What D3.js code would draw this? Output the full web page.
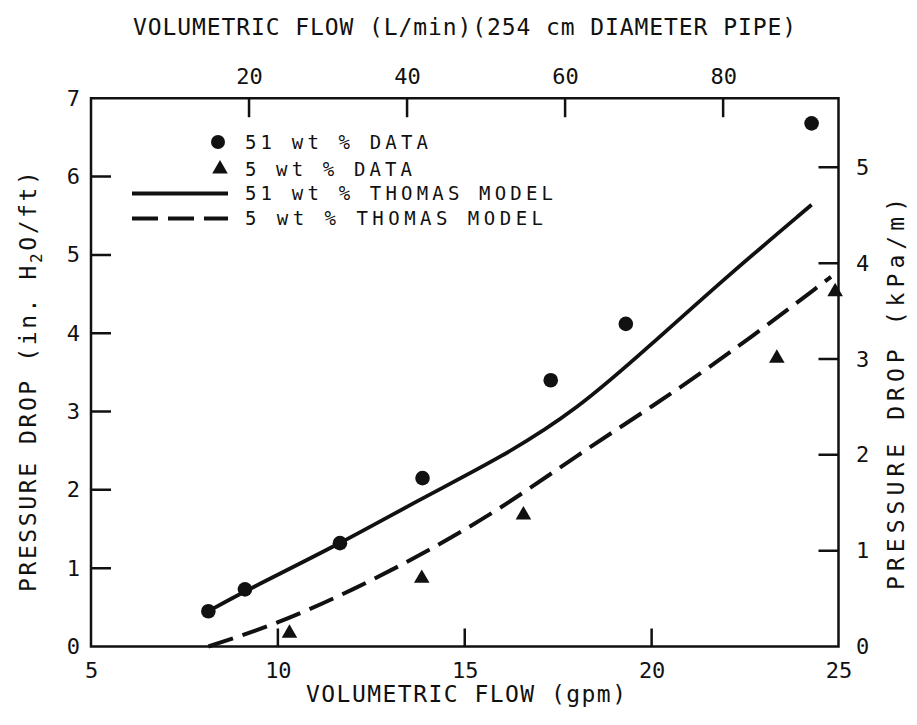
<!DOCTYPE html>
<html>
<head>
<meta charset="utf-8">
<script src="https://cdnjs.cloudflare.com/ajax/libs/d3/7.8.5/d3.min.js"></script>
<style>
  body { margin: 0; background: #fff; }
  svg text { font-family: "DejaVu Sans Mono", monospace; fill: #111; }
</style>
</head>
<body>
<svg width="917" height="725"></svg>
<script>
// measured data (gpm vs in. H2O/ft)
const flow51 = [8.14, 9.12, 11.66, 13.87, 17.30, 19.31, 24.28]
const drop51 = [0.45, 0.73, 1.32, 2.15, 3.40, 4.12, 6.68]
const flow5 = [10.31, 13.85, 16.57, 23.35, 24.91]
const drop5 = [0.17, 0.87, 1.68, 3.68, 4.53]
// Thomas model curves
const modelFlow51 = [8.14, 9.12, 11.66, 13.8, 16, 18, 20, 22, 24.28]
const modelDrop51 = [0.45, 0.71, 1.31, 1.88, 2.42, 3.02, 3.86, 4.72, 5.64]
const modelFlow5 = [8.14, 10, 12, 14, 16, 18, 20, 22, 24.8]
const modelDrop5 = [0, 0.29, 0.72, 1.21, 1.77, 2.44, 3.06, 3.71, 4.72]

const xTicks = [5, 10, 15, 20, 25]
const yTicks = [0, 1, 2, 3, 4, 5, 6, 7]
const topTicks = [20, 40, 60, 80]
const rightTicks = [0, 1, 2, 3, 4, 5]
const legendLabels = ['51 wt % DATA', '5 wt % DATA', '51 wt % THOMAS MODEL', '5 wt % THOMAS MODEL']
const legendWidths = [183, 167, 308, 298]

const plotLeft = 91, plotRight = 838.5, plotTop = 98.3, plotBottom = 646.5
const svg = d3.select('svg')

const x = d3.scaleLinear().domain([5, 25]).range([plotLeft, plotRight])
const y = d3.scaleLinear().domain([0, 7]).range([plotBottom, plotTop])
const xTop = d3.scaleLinear().domain([0, 94.6]).range([plotLeft, plotRight])
const yRight = d3.scaleLinear().domain([0, 7 * 0.8172]).range([plotBottom, plotTop])

const styleAxis = g => {
  g.select('.domain').remove()
  g.selectAll('.tick line').remove()
  g.selectAll('.tick text').attr('font-size', 22).attr('fill', '#111')
    .attr('font-family', '"Liberation Sans", Arial, sans-serif')
}
const fmt = d3.format('d')

svg.append('g').attr('transform', `translate(0,${plotBottom})`)
  .call(d3.axisBottom(x).tickValues(xTicks).tickFormat(fmt).tickSize(0).tickPadding(15.5))
  .call(styleAxis)
svg.append('g').attr('transform', `translate(${plotLeft},0)`)
  .call(d3.axisLeft(y).tickValues(yTicks).tickFormat(fmt).tickSize(0).tickPadding(11))
  .call(styleAxis)
svg.append('g').attr('transform', `translate(0,${plotTop})`)
  .call(d3.axisTop(xTop).tickValues(topTicks).tickFormat(fmt).tickSize(0).tickPadding(14))
  .call(styleAxis)
svg.append('g').attr('transform', `translate(${plotRight},0)`)
  .call(d3.axisRight(yRight).tickValues(rightTicks).tickFormat(fmt).tickSize(0).tickPadding(17.5))
  .call(styleAxis)

// frame plus inward tick marks, as one path
const frame = d3.path()
frame.rect(plotLeft, plotTop, plotRight - plotLeft, plotBottom - plotTop)
xTicks.slice(1, -1).forEach(v => { frame.moveTo(x(v), plotBottom); frame.lineTo(x(v), plotBottom - 18) })
yTicks.slice(1, -1).forEach(v => { frame.moveTo(plotLeft, y(v)); frame.lineTo(plotLeft + 20, y(v)) })
topTicks.forEach(v => { frame.moveTo(xTop(v), plotTop); frame.lineTo(xTop(v), plotTop + 19) })
rightTicks.slice(1).forEach(v => { frame.moveTo(plotRight, yRight(v)); frame.lineTo(plotRight - 20, yRight(v)) })
svg.append('path').attr('d', frame.toString())
  .attr('fill', 'none').attr('stroke', '#111').attr('stroke-width', 2.5)

// model curves
const line = d3.line().x(d => x(d[0])).y(d => y(d[1])).curve(d3.curveBasis)
svg.append('path').datum(d3.zip(modelFlow51, modelDrop51))
  .attr('d', line).attr('fill', 'none').attr('stroke', '#111').attr('stroke-width', 3.8)
svg.append('path').datum(d3.zip(modelFlow5, modelDrop5))
  .attr('d', line).attr('fill', 'none').attr('stroke', '#111').attr('stroke-width', 4)
  .attr('stroke-dasharray', '26,10')

// data points
svg.append('g').selectAll('circle').data(d3.zip(flow51, drop51)).enter().append('circle')
  .attr('cx', d => x(d[0])).attr('cy', d => y(d[1])).attr('r', 7.3).attr('fill', '#111')
const tri = d3.symbol().type(d3.symbolTriangle).size(105)
svg.append('g').selectAll('path').data(d3.zip(flow5, drop5)).enter().append('path')
  .attr('d', tri).attr('transform', d => `translate(${x(d[0])},${y(d[1])})`).attr('fill', '#111')

// legend
const lg = svg.append('g')
const rowY = [142, 169, 193.5, 218.5]
lg.append('circle').attr('cx', 218).attr('cy', rowY[0]).attr('r', 7).attr('fill', '#111')
lg.append('path').attr('d', tri).attr('transform', `translate(220,${rowY[1]})`).attr('fill', '#111')
lg.append('line').attr('x1', 132).attr('x2', 228).attr('y1', rowY[2]).attr('y2', rowY[2])
  .attr('stroke', '#111').attr('stroke-width', 3.8)
lg.append('line').attr('x1', 132).attr('x2', 228).attr('y1', rowY[3]).attr('y2', rowY[3])
  .attr('stroke', '#111').attr('stroke-width', 4).attr('stroke-dasharray', '26,10')
lg.selectAll('text').data(legendLabels).enter().append('text')
  .attr('x', 245).attr('y', (d, i) => rowY[i] + 6.8)
  .attr('font-size', 19)
  .attr('textLength', (d, i) => legendWidths[i]).attr('lengthAdjust', 'spacing')
  .text(d => d)

// titles
svg.append('text').attr('x', 133).attr('y', 35).attr('font-size', 23)
  .attr('textLength', 663).attr('lengthAdjust', 'spacing')
  .text('VOLUMETRIC FLOW (L/min)(254 cm DIAMETER PIPE)')
svg.append('text').attr('x', 306).attr('y', 702).attr('font-size', 23)
  .attr('textLength', 320).attr('lengthAdjust', 'spacing')
  .text('VOLUMETRIC FLOW (gpm)')

const leftTitle = svg.append('text').attr('transform', 'translate(36,592) rotate(-90)')
  .attr('font-size', 23).attr('letter-spacing', 2.6)
leftTitle.append('tspan').text('PRESSURE DROP (in. H')
leftTitle.append('tspan').attr('font-size', 16).attr('dy', 6).text('2')
leftTitle.append('tspan').attr('dy', -6).text('O/ft)')

svg.append('text').attr('transform', 'translate(904,590) rotate(-90)')
  .attr('font-size', 23).attr('textLength', 392).attr('lengthAdjust', 'spacing')
  .text('PRESSURE DROP (kPa/m)')
</script>
</body>
</html>
